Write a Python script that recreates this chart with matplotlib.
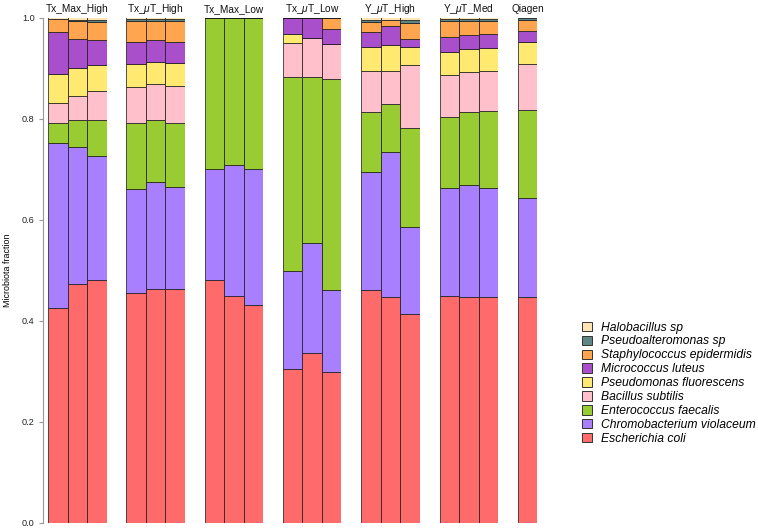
import matplotlib
matplotlib.use('Agg')
import matplotlib.pyplot as plt
from matplotlib.patches import Patch
import numpy as np

plt.rcParams['font.family'] = ['Liberation Sans', 'DejaVu Sans']
plt.rcParams['mathtext.fontset'] = 'custom'
plt.rcParams['mathtext.it'] = 'Liberation Sans:italic'

# facets and how many samples each one holds
groups = ['Tx_Max_High', 'Tx_$\\mu$T_High', 'Tx_Max_Low', 'Tx_$\\mu$T_Low',
          'Y_$\\mu$T_High', 'Y_$\\mu$T_Med', 'Qiagen']
group_sizes = [3, 3, 3, 3, 3, 3, 1]

# species, bottom of the stack first
species = ['Escherichia coli', 'Chromobacterium violaceum', 'Enterococcus faecalis',
           'Bacillus subtilis', 'Pseudomonas fluorescens', 'Micrococcus luteus',
           'Staphylococcus epidermidis', 'Pseudoalteromonas sp', 'Halobacillus sp']
colors = ['#FF6B6B', '#A880FF', '#99CC33', '#FFC0CB', '#FFE970', '#AA4FCC',
          '#FFA54F', '#5F8585', '#FFE4B5']

# fraction of each species per sample (19 samples, facet order)
escherichia = [0.424, 0.472, 0.480, 0.455, 0.462, 0.462, 0.481, 0.448, 0.430,
               0.303, 0.335, 0.298, 0.460, 0.446, 0.412, 0.449, 0.447, 0.446, 0.447]
chromobacterium = [0.327, 0.272, 0.246, 0.206, 0.212, 0.202, 0.219, 0.260, 0.270,
                   0.196, 0.219, 0.162, 0.234, 0.287, 0.174, 0.213, 0.222, 0.216, 0.195]
enterococcus = [0.041, 0.054, 0.072, 0.130, 0.124, 0.127, 0.300, 0.292, 0.300,
                0.383, 0.328, 0.418, 0.118, 0.096, 0.195, 0.141, 0.144, 0.152, 0.175]
bacillus = [0.039, 0.046, 0.056, 0.071, 0.070, 0.074, 0.0, 0.0, 0.0,
            0.068, 0.078, 0.070, 0.083, 0.066, 0.124, 0.084, 0.079, 0.081, 0.090]
pseudomonas = [0.057, 0.056, 0.051, 0.045, 0.044, 0.045, 0.0, 0.0, 0.0,
               0.018, 0.0, 0.0, 0.046, 0.050, 0.037, 0.045, 0.046, 0.045, 0.045]
micrococcus = [0.084, 0.058, 0.051, 0.045, 0.044, 0.042, 0.0, 0.0, 0.0,
               0.032, 0.040, 0.030, 0.030, 0.039, 0.016, 0.029, 0.028, 0.028, 0.021]
staphylococcus = [0.025, 0.036, 0.036, 0.042, 0.038, 0.042, 0.0, 0.0, 0.0,
                  0.0, 0.0, 0.022, 0.020, 0.012, 0.032, 0.032, 0.027, 0.025, 0.023]
pseudoalteromonas = [0.001, 0.002, 0.004, 0.003, 0.003, 0.003, 0.0, 0.0, 0.0,
                     0.0, 0.0, 0.0, 0.005, 0.0, 0.005, 0.004, 0.004, 0.004, 0.004]
halobacillus = [0.002, 0.004, 0.004, 0.003, 0.003, 0.003, 0.0, 0.0, 0.0,
                0.0, 0.0, 0.0, 0.004, 0.004, 0.005, 0.003, 0.003, 0.003, 0.0]

fractions = np.array([escherichia, chromobacterium, enterococcus, bacillus,
                      pseudomonas, micrococcus, staphylococcus,
                      pseudoalteromonas, halobacillus])

W, H = 758, 530
fig = plt.figure(figsize=(W / 100, H / 100), dpi=100)

bar_px = 19.5
step_px = 78.3
bottom_px = 7.5
height_px = 505

start = 0
for i, (name, n) in enumerate(zip(groups, group_sizes)):
    left_px = 48 + i * step_px
    ax = fig.add_axes([left_px / W, bottom_px / H, n * bar_px / W, height_px / H])
    data = fractions[:, start:start + n]
    start += n
    x = np.arange(n)
    base = np.zeros(n)
    for k in range(len(species)):
        ax.bar(x, data[k], bottom=base, width=1.0, color=colors[k],
               edgecolor=(0.1, 0.1, 0.1, 0.75), linewidth=0.7)
        base = base + data[k]
    ax.set_xlim(-0.5, n - 0.5)
    ax.set_ylim(0, 1)
    ax.set_xticks([])
    for s in ['top', 'right', 'bottom']:
        ax.spines[s].set_visible(False)
    ax.set_title(name, fontsize=7.3, pad=4, color='#111111')
    if i == 0:
        ax.spines['left'].set_position(('outward', 3.6))
        ax.spines['left'].set_color('#999999')
        ax.spines['left'].set_linewidth(0.8)
        ax.set_yticks([0, 0.2, 0.4, 0.6, 0.8, 1.0])
        ax.set_yticklabels(['0.0', '0.2', '0.4', '0.6', '0.8', '1.0'])
        ax.tick_params(axis='y', labelsize=6.6, length=3, width=0.8,
                       color='#999999', labelcolor='#222222', pad=3)
        ax.set_ylabel('Microbiota fraction', fontsize=6.4, labelpad=7)
    else:
        ax.spines['left'].set_visible(False)
        ax.set_yticks([])

handles = [Patch(facecolor=colors[k], edgecolor='#333333', linewidth=0.7,
                 label=species[k]) for k in range(len(species))][::-1]
leg = fig.legend(handles=handles, loc='upper left',
                 bbox_to_anchor=(582 / W, 1 - 321.5 / H), frameon=False,
                 prop={'style': 'italic', 'size': 8.7},
                 handlelength=0.8, handleheight=0.8, handletextpad=0.8,
                 labelspacing=0.16, borderaxespad=0, borderpad=0)

fig.savefig('out.png', dpi=100)
